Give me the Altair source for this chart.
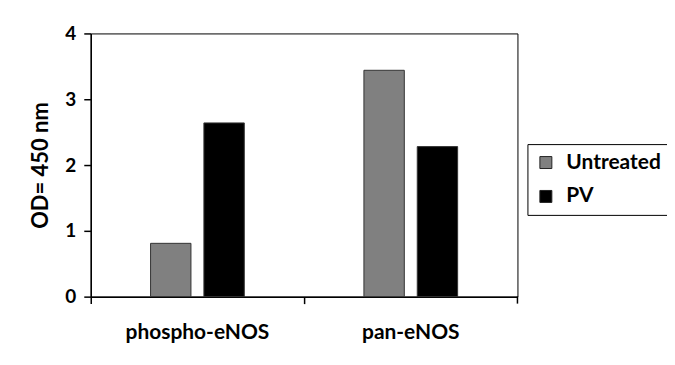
import altair as alt
import pandas as pd

categories = ["phospho-eNOS", "pan-eNOS"]
series = ["Untreated", "PV"]
untreated = [0.81, 3.44]
pv = [2.64, 2.28]
colors = ["#808080", "#000000"]

rows = []
for c, u, p in zip(categories, untreated, pv):
    rows.append({"target": c, "treatment": "Untreated", "od": u})
    rows.append({"target": c, "treatment": "PV", "od": p})
df = pd.DataFrame(rows)

FONT = "Lato"

# empty slots either side of the pair of bars in each category
offset_domain = ["_l"] + series + ["_r"]

bars = alt.Chart(df).mark_bar(stroke="#333333", strokeWidth=1).encode(
    x=alt.X(
        "target:N",
        sort=categories,
        scale=alt.Scale(paddingInner=0, paddingOuter=0),
        axis=alt.Axis(
            title=None,
            bandPosition=0,
            labelAngle=0,
            tickSize=7,
            labelPadding=18,
            labelFont=FONT,
            labelFontSize=21,
            labelFontWeight="bold",
            labelColor="black",
            domainColor="black",
            tickColor="black",
            domainWidth=1.5,
            tickWidth=1.5,
        ),
    ),
    xOffset=alt.XOffset(
        "treatment:N",
        scale=alt.Scale(domain=offset_domain, paddingInner=0.243, paddingOuter=0.1215),
    ),
    y=alt.Y(
        "od:Q",
        scale=alt.Scale(domain=[0, 4], nice=False),
        axis=alt.Axis(
            values=[0, 1, 2, 3, 4],
            format="d",
            title="OD= 450 nm",
            grid=False,
            tickSize=7,
            labelPadding=8,
            labelFont=FONT,
            labelFontSize=19,
            labelFontWeight="bold",
            labelColor="black",
            titleFont=FONT,
            titleFontSize=22,
            titleFontWeight="bold",
            titleColor="black",
            titlePadding=12,
            domainColor="black",
            tickColor="black",
            domainWidth=1.5,
            tickWidth=1.5,
        ),
    ),
    color=alt.Color(
        "treatment:N",
        sort=series,
        scale=alt.Scale(domain=series, range=colors),
        legend=alt.Legend(
            title=None,
            orient="none",
            legendX=438,
            legendY=111,
            strokeColor="black",
            padding=8,
            symbolType="square",
            symbolSize=144,
            symbolStrokeColor="#222222",
            symbolStrokeWidth=1,
            symbolOpacity=1,
            labelFont=FONT,
            labelFontSize=21,
            labelFontWeight="bold",
            labelColor="black",
            labelOffset=10,
            rowPadding=12,
        ),
    ),
)

end_tick = alt.Chart(pd.DataFrame({"a": [0]})).mark_rule(
    color="black", strokeWidth=1.5
).encode(x=alt.value(428), y=alt.value(264), y2=alt.value(271))

chart = (
    alt.layer(bars, end_tick)
    .properties(
        width=428,
        height=264,
        autosize=alt.AutoSizeParams(type="none"),
        padding={"left": 83, "top": 25, "right": 150, "bottom": 50},
        background="white",
    )
    .configure_view(stroke="black", strokeWidth=1)
)

chart.save("out.html", embed_options={"renderer": "svg", "actions": False})
